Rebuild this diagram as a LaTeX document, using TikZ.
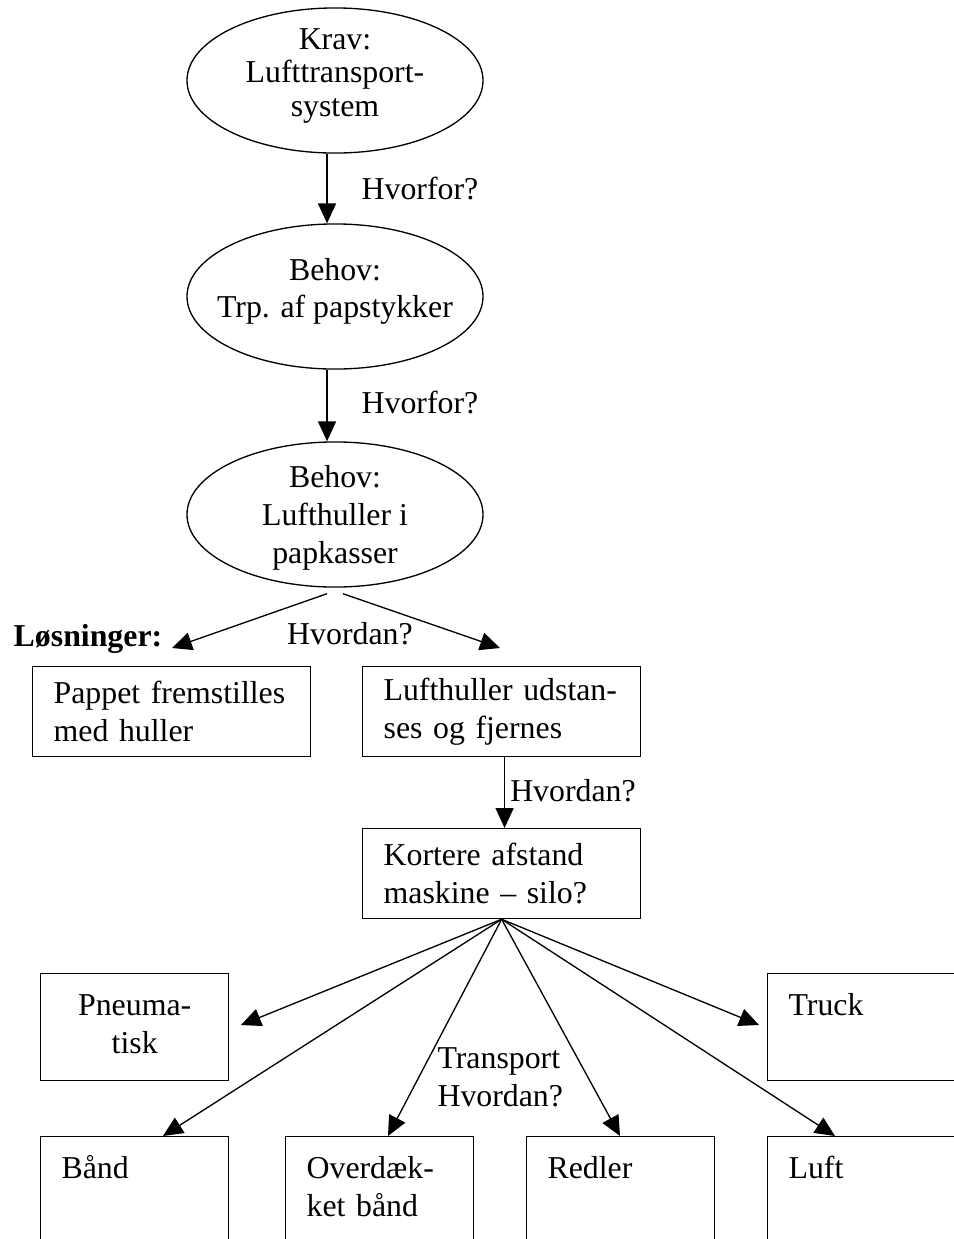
\documentclass[tikz,border=0pt]{standalone}
\usepackage{fontspec}
\setmainfont{Liberation Serif}
\usetikzlibrary{arrows.meta,positioning,calc,shapes.geometric}

\begin{document}
\begin{tikzpicture}[
    x=0.377pt, y=-0.377pt,
    every node/.style={font=\fontsize{12}{14.3}\selectfont},
    goal/.style={draw, ellipse, align=center, minimum width=111.6pt, minimum height=54.7pt, inner sep=0pt, line width=0.5pt},
    solution/.style={draw, anchor=north west, align=left, text width=89pt, inner xsep=7.9pt, inner ysep=0pt, minimum height=33.9pt, line width=0.5pt},
    option/.style={draw, anchor=north west, align=left, text width=55.1pt, inner xsep=7.9pt, inner ysep=0pt, text height=15.8pt, text depth=24.5pt, line width=0.5pt},
    edgeoption/.style={option, text width=59.6pt},
    lowoption/.style={text depth=33.9pt},
    flow/.style={-{Triangle[length=7.5pt,width=6.8pt]}, line width=0.5pt},
    note/.style={anchor=base}
]
    \useasboundingbox (0,0) rectangle (954,1239);
    \clip (0,0) rectangle (954,1239);

    \node[goal, text height=30pt, text depth=3.2pt, font=\fontsize{12}{12.6}\selectfont] (krav) at (335,80.5) {Krav:\\Lufttransport-\\system};
    \node[goal, text height=19pt, text depth=2.8pt, inner xsep=-6pt] (trp) at (335,296.5) {Behov:\\Trp. af papstykker};
    \node[goal, text height=37pt, text depth=-3.3pt] (huller) at (335,514.5) {Behov:\\Lufthuller i\\papkasser};

    \draw[flow] ([xshift=-3pt]krav.south) -- ([xshift=-3pt]trp.north);
    \draw[flow] ([xshift=-3pt]trp.south) -- ([xshift=-3pt]huller.north);
    \node[note] (why1) at (420,199) {Hvorfor?};
    \node[note] (why2) at (420,413) {Hvorfor?};

    \coordinate (tipL) at (172,648);
    \coordinate (tipR) at (500,648);
    \draw[flow] ([shift={(-8,6)}]huller.south) -- (tipL);
    \draw[flow] ([shift={(8,6)}]huller.south) -- (tipR);
    \node[note, font=\fontsize{12}{14.3}\selectfont\bfseries] (loes) at (88,646) {Løsninger:};
    \node[note] (how1) at (350,644) {Hvordan?};

    \node[solution] (pappet) at (32,666) {Pappet fremstilles\\med huller};
    \node[solution] (udstan) at (362,666) {Lufthuller udstan-\\ses og fjernes};
    \node[solution] (kortere) at (362,828) {Kortere afstand\\maskine – silo?};

    \draw[flow] ([xshift=1.1pt]udstan.south) -- ([xshift=1.1pt]kortere.north);
    \node[note] (how2) at (573,801) {Hvordan?};

    \node[option, align=center] (pneu) at (40,973) {Pneuma-\\tisk};
    \node[edgeoption] (truck) at (767,973) {Truck};
    \node[option, lowoption] (baand) at (40,1136) {Bånd};
    \node[option, lowoption] (overdaek) at (285,1136) {Overdæk-\\ket bånd};
    \node[option, lowoption] (redler) at (526,1136) {Redler};
    \node[edgeoption, lowoption] (luft) at (767,1136) {Luft};

    \coordinate (tipP) at (241,1025);
    \coordinate (tipT) at (759,1025);
    \draw[flow] (kortere.south) -- (tipP);
    \draw[flow] (kortere.south) -- ($(baand.north west)+(123,0)$);
    \draw[flow] (kortere.south) -- ($(overdaek.north west)+(103,0)$);
    \draw[flow] (kortere.south) -- ($(redler.north west)+(94,0)$);
    \draw[flow] (kortere.south) -- (tipT);
    \draw[flow] (kortere.south) -- ($(luft.north west)+(68,0)$);
    \node[align=left, anchor=west, inner sep=0pt] (how3) at (437,1077) {Transport\\Hvordan?};
\end{tikzpicture}
\end{document}
